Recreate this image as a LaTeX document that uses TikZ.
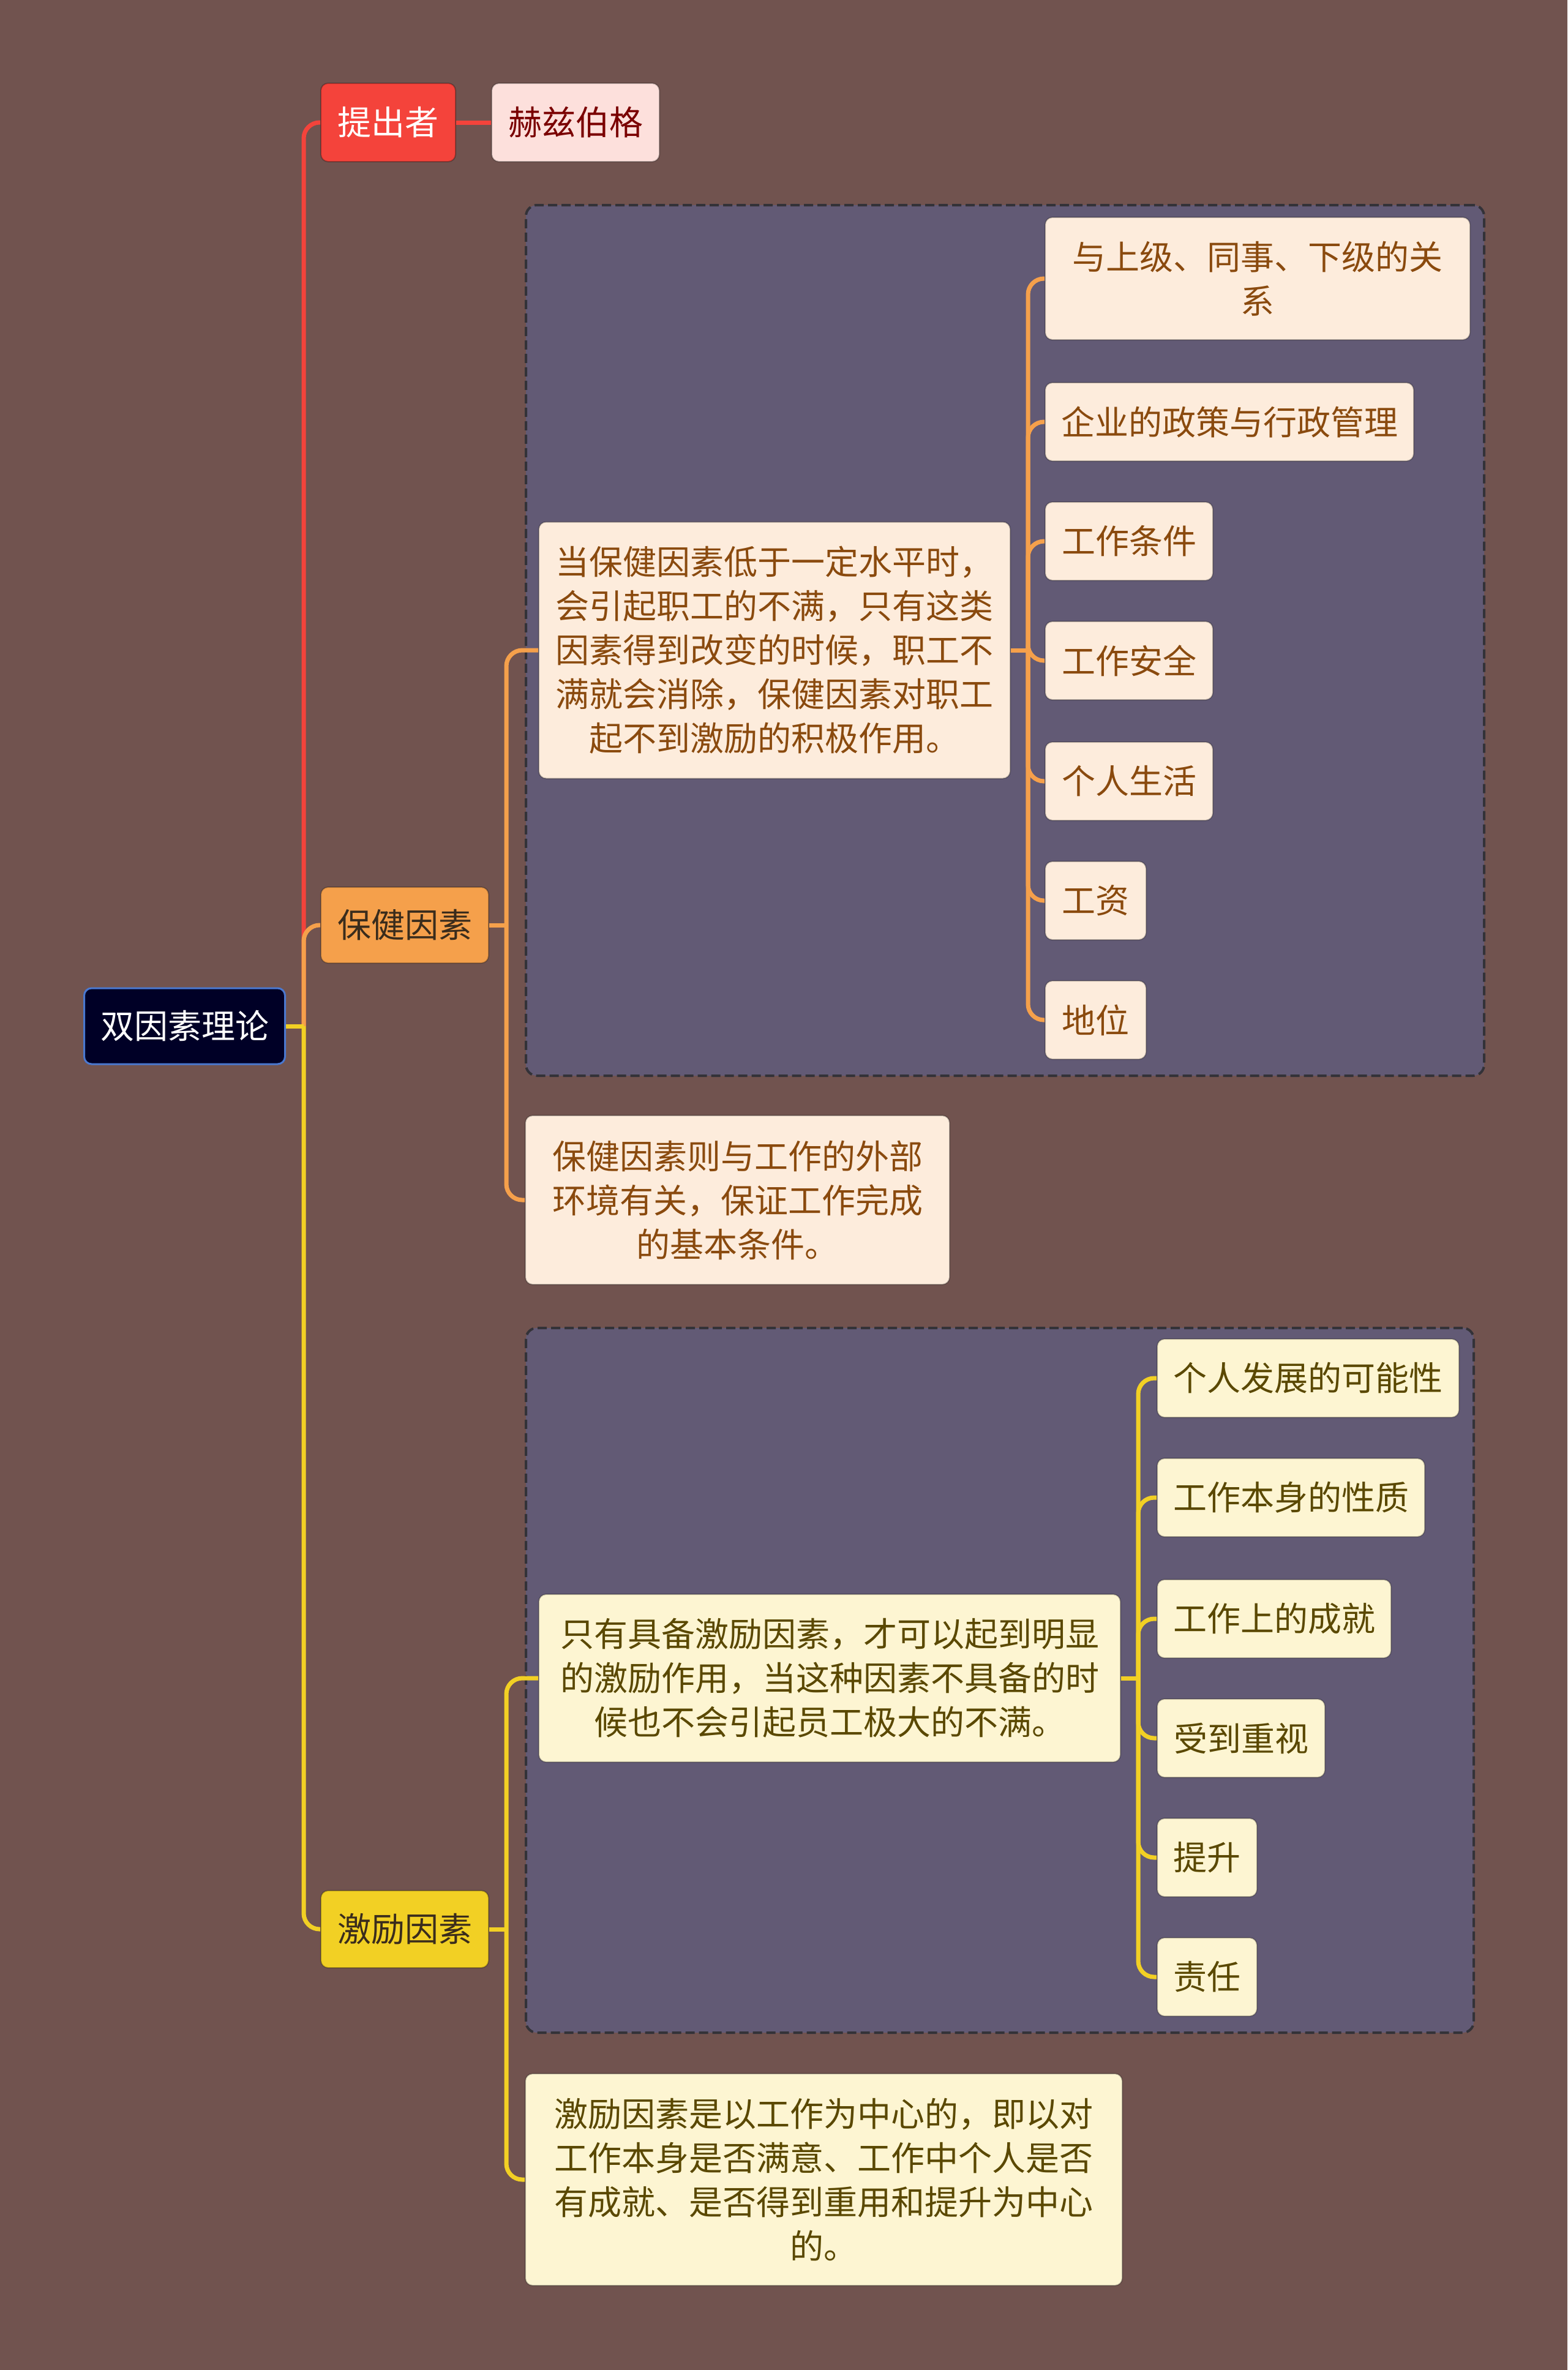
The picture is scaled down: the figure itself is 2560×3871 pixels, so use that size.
\documentclass[tikz,border=0pt]{standalone}
\usepackage{fontspec}
\newfontfamily\cjk{Noto Sans CJK SC}
\definecolor{bg}{HTML}{71534F}
\definecolor{grp}{HTML}{625A75}
\definecolor{grpline}{HTML}{333238}
\definecolor{cred}{HTML}{F4433B}
\definecolor{corange}{HTML}{F5A04B}
\definecolor{cyellow}{HTML}{F2D024}
\definecolor{rootfill}{HTML}{000026}
\definecolor{rootline}{HTML}{4A78D0}
\definecolor{pinkfill}{HTML}{FDE0DC}
\definecolor{pinktext}{HTML}{7A0000}
\definecolor{afill}{HTML}{FDECDC}
\definecolor{atext}{HTML}{8A4A0E}
\definecolor{cfill}{HTML}{FDF5D2}
\definecolor{ctext}{HTML}{5A4800}
\definecolor{darktext}{HTML}{3A2C1C}
\tikzset{
  box/.style={rounded corners=12pt, inner sep=0pt, align=center, anchor=west,
    font=\cjk\fontsize{55}{72}\selectfont},
  edged/.style={draw=black, draw opacity=0.28, line width=2pt},
  rootbox/.style={box, fill=rootfill, draw=rootline, line width=3pt, text=white},
  redbox/.style={box, edged, fill=cred, text=white},
  pinkbox/.style={box, edged, fill=pinkfill, text=pinktext},
  orangebox/.style={box, edged, fill=corange, text=darktext},
  yellowbox/.style={box, edged, fill=cyellow, text=darktext},
  abox/.style={box, edged, fill=afill, text=atext},
  cbox/.style={box, edged, fill=cfill, text=ctext},
  grpbox/.style={rounded corners=18pt, fill=grp, draw=grpline, dash pattern=on 15pt off 7pt,
    line width=4pt, anchor=north west, inner sep=0pt},
  mainline/.style={line width=7pt, rounded corners=26pt},
  subline/.style={line width=7pt, rounded corners=26pt},
}
\begin{document}
\begin{tikzpicture}[x=1pt,y=-1pt]
\fill[bg] (0,0) rectangle (2560,3871);
\useasboundingbox (0,0) rectangle (2560,3871);

% groups
\node[grpbox, minimum width=1565pt, minimum height=1422pt] (g1) at (857,333) {};
\node[grpbox, minimum width=1548pt, minimum height=1151pt] (g2) at (857,2167) {};

% main nodes
\node[rootbox, minimum width=328pt, minimum height=124pt] (root) at (136,1676) {双因素理论};
\node[redbox, minimum width=220pt, minimum height=128pt] (tichu) at (523,200) {提出者};
\node[pinkbox, minimum width=274pt, minimum height=128pt] (hez) at (802,200) {赫兹伯格};
\node[orangebox, minimum width=274pt, minimum height=124pt] (baojian) at (523,1511) {保健因素};
\node[yellowbox, minimum width=274pt, minimum height=126pt] (jili) at (523,3151) {激励因素};

% hygiene factor branch
\node[abox, minimum width=770pt, minimum height=419pt] (A) at (879,1062)
  {当保健因素低于一定水平时，\\会引起职工的不满，只有这类\\因素得到改变的时候，职工不\\满就会消除，保健因素对职工\\起不到激励的积极作用。};
\node[abox, minimum width=694pt, minimum height=200pt] (a1) at (1706,455) {与上级、同事、下级的关\\系};
\node[abox, minimum width=602pt, minimum height=128pt] (a2) at (1706,689) {企业的政策与行政管理};
\node[abox, minimum width=274pt, minimum height=128pt] (a3) at (1706,884) {工作条件};
\node[abox, minimum width=274pt, minimum height=128pt] (a4) at (1706,1079) {工作安全};
\node[abox, minimum width=274pt, minimum height=128pt] (a5) at (1706,1276) {个人生活};
\node[abox, minimum width=165pt, minimum height=128pt] (a6) at (1706,1471) {工资};
\node[abox, minimum width=165pt, minimum height=128pt] (a7) at (1706,1666) {地位};
\node[abox, minimum width=693pt, minimum height=276pt] (B) at (857,1960)
  {保健因素则与工作的外部\\环境有关，保证工作完成\\的基本条件。};

% motivation factor branch
\node[cbox, minimum width=950pt, minimum height=274pt] (C) at (879,2741)
  {只有具备激励因素，才可以起到明显\\的激励作用，当这种因素不具备的时\\候也不会引起员工极大的不满。};
\node[cbox, minimum width=493pt, minimum height=128pt] (c1) at (1889,2251) {个人发展的可能性};
\node[cbox, minimum width=437pt, minimum height=128pt] (c2) at (1889,2446) {工作本身的性质};
\node[cbox, minimum width=382pt, minimum height=128pt] (c3) at (1889,2644) {工作上的成就};
\node[cbox, minimum width=274pt, minimum height=128pt] (c4) at (1889,2839) {受到重视};
\node[cbox, minimum width=163pt, minimum height=128pt] (c5) at (1889,3034) {提升};
\node[cbox, minimum width=163pt, minimum height=128pt] (c6) at (1889,3229) {责任};
\node[cbox, minimum width=975pt, minimum height=346pt] (D) at (857,3560)
  {激励因素是以工作为中心的，即以对\\工作本身是否满意、工作中个人是否\\有成就、是否得到重用和提升为中心\\的。};

% junctions
\coordinate (jr) at (496,1676);
\coordinate (jb) at (827,1511);
\coordinate (ja) at (1679,1062);
\coordinate (jj) at (827,3151);
\coordinate (jc) at (1859,2741);

% connectors
\draw[mainline, cred] (jr) |- (tichu.west);
\draw[mainline, cred] (tichu.east) -- (hez.west);
\draw[mainline, corange] (jr) |- (baojian.west);
\draw[mainline, cyellow] (jr) |- (jili.west);
\draw[mainline, cyellow, rounded corners=0pt] (root.east) -- (jr);

\draw[subline, corange, rounded corners=0pt] (baojian.east) -- (jb);
\draw[subline, corange] (jb) |- (A.west);
\draw[subline, corange] (jb) |- (B.west);
\draw[subline, corange, rounded corners=0pt] (A.east) -- (ja);
\foreach \n in {a1,a2,a3,a4,a5,a6,a7}{
  \draw[subline, corange] (ja) |- (\n.west);
}

\draw[subline, cyellow, rounded corners=0pt] (jili.east) -- (jj);
\draw[subline, cyellow] (jj) |- (C.west);
\draw[subline, cyellow] (jj) |- (D.west);
\draw[subline, cyellow, rounded corners=0pt] (C.east) -- (jc);
\foreach \n in {c1,c2,c3,c4,c5,c6}{
  \draw[subline, cyellow] (jc) |- (\n.west);
}
\end{tikzpicture}
\end{document}
